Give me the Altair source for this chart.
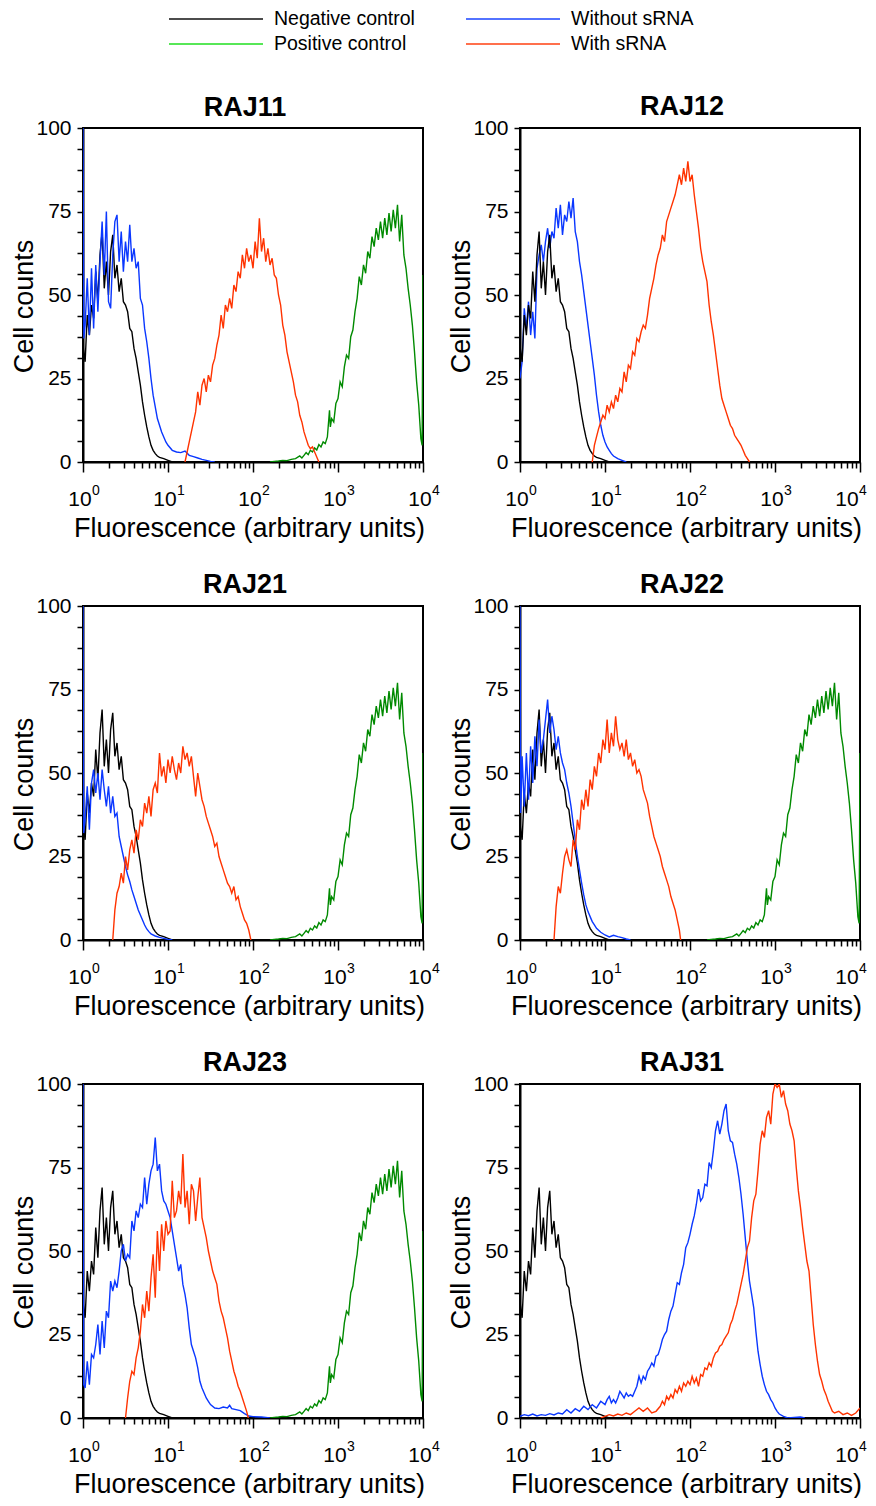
import altair as alt
import pandas as pd

FONT = "Liberation Sans"
BLACK = "#000000"
GREEN = "#008a00"
LEG_GREEN = "#10dd10"
BLUE = "#0a37ff"
RED = "#ff3300"

# ---- data: (log10 fluorescence, cell counts) ----
NEG_CONTROL = [(0.000, 100), (0.004, 34), (0.025, 30), (0.050, 44), (0.075, 38), (0.100, 47), (0.125, 43),
               (0.150, 57), (0.175, 48), (0.200, 62), (0.225, 69), (0.250, 52), (0.275, 60), (0.300, 50),
               (0.325, 63), (0.350, 68), (0.375, 55), (0.400, 59), (0.425, 51), (0.450, 55), (0.475, 48),
               (0.500, 47), (0.525, 45), (0.550, 40), (0.575, 39), (0.600, 34), (0.625, 31), (0.650, 27),
               (0.675, 23), (0.700, 18), (0.725, 14), (0.750, 10.5), (0.775, 7.5), (0.800, 5), (0.825, 3.5),
               (0.850, 2.5), (0.875, 1.8), (0.900, 1.4), (0.950, 1), (1.000, 0.5), (1.050, 0)]

POS_CONTROL = [(2.200, 0), (2.250, 0.2), (2.300, 0.3), (2.350, 0.5), (2.400, 0.4), (2.450, 0.8), (2.500, 1.0),
               (2.550, 1.8), (2.575, 1.2), (2.600, 2.0), (2.625, 2.8), (2.650, 2.2), (2.675, 3.5), (2.700, 3.0),
               (2.725, 4.2), (2.750, 3.6), (2.775, 5.2), (2.800, 4.5), (2.825, 6.0), (2.850, 5.5), (2.875, 7.5),
               (2.900, 15.5), (2.910, 10.5), (2.925, 13.0), (2.950, 12.0), (2.975, 17.5), (3.000, 19.0),
               (3.025, 24.0), (3.050, 22.5), (3.075, 28.5), (3.100, 32.0), (3.125, 31.0), (3.150, 37.5),
               (3.175, 39.5), (3.200, 45.0), (3.225, 49.0), (3.250, 55.5), (3.275, 53.0), (3.300, 59.0),
               (3.325, 56.5), (3.350, 63.0), (3.375, 61.0), (3.400, 67.5), (3.425, 64.5), (3.450, 70.0),
               (3.475, 66.5), (3.500, 72.0), (3.525, 67.0), (3.550, 73.0), (3.575, 68.0), (3.600, 74.5),
               (3.625, 69.0), (3.650, 75.5), (3.675, 70.0), (3.700, 77.0), (3.725, 66.0), (3.750, 74.0),
               (3.775, 62.0), (3.800, 58.0), (3.825, 52.0), (3.850, 47.0), (3.875, 41.0), (3.900, 33.0),
               (3.925, 24.0), (3.950, 17.0), (3.975, 7.0), (3.990, 5.0), (4.000, 56.0)]

RAJ11_WITHOUT = [(0.000, 100), (0.010, 37), (0.025, 41), (0.050, 55), (0.075, 38), (0.100, 58), (0.125, 40),
                 (0.150, 59), (0.175, 45), (0.200, 60), (0.225, 72), (0.250, 56), (0.275, 75), (0.300, 48),
                 (0.325, 46), (0.350, 62), (0.375, 72), (0.400, 74), (0.425, 60), (0.450, 69), (0.475, 57),
                 (0.500, 66), (0.525, 60), (0.550, 71), (0.575, 60), (0.600, 64), (0.625, 58), (0.650, 60),
                 (0.675, 49), (0.700, 47), (0.725, 40), (0.750, 36), (0.775, 31), (0.800, 25), (0.825, 20),
                 (0.850, 16.5), (0.875, 13), (0.900, 11), (0.925, 9), (0.950, 7.5), (0.975, 6), (1.000, 5),
                 (1.050, 3.5), (1.100, 3), (1.150, 2.8), (1.200, 3.3), (1.250, 2), (1.300, 1.6), (1.350, 1.2),
                 (1.400, 0.8), (1.450, 0.5), (1.500, 0.2), (1.550, 0)]

RAJ11_WITH = [(1.200, 0), (1.225, 3), (1.250, 6), (1.275, 9), (1.300, 12), (1.325, 15), (1.350, 21), (1.375, 17),
              (1.400, 23), (1.425, 25), (1.450, 21), (1.475, 26), (1.500, 24), (1.525, 29), (1.550, 31),
              (1.575, 35), (1.600, 38), (1.625, 44), (1.650, 40), (1.675, 47), (1.700, 45), (1.725, 49),
              (1.750, 46), (1.775, 53), (1.800, 51), (1.825, 57), (1.850, 55), (1.875, 62), (1.900, 58),
              (1.925, 64), (1.950, 60), (1.975, 62), (2.000, 58), (2.025, 66), (2.050, 61), (2.075, 73),
              (2.100, 63), (2.125, 67), (2.150, 60), (2.175, 64), (2.200, 59), (2.225, 61), (2.250, 56),
              (2.275, 55), (2.300, 50), (2.325, 47), (2.350, 41), (2.375, 38), (2.400, 33), (2.425, 30),
              (2.450, 27), (2.475, 24), (2.500, 20), (2.525, 18), (2.550, 14), (2.575, 12), (2.600, 9),
              (2.625, 7), (2.650, 5), (2.675, 4), (2.700, 4.5), (2.725, 3), (2.750, 1.5), (2.775, 0)]

RAJ12_WITHOUT = [(0.000, 25), (0.025, 30), (0.050, 46), (0.075, 40), (0.100, 48), (0.125, 38), (0.150, 45),
                 (0.175, 37), (0.200, 58), (0.225, 62), (0.250, 65), (0.275, 60), (0.300, 66), (0.325, 70),
                 (0.350, 64), (0.375, 69), (0.400, 67), (0.425, 76), (0.450, 70), (0.475, 77), (0.500, 68),
                 (0.525, 74), (0.550, 72), (0.575, 78), (0.600, 73), (0.625, 79), (0.650, 69), (0.675, 66),
                 (0.700, 60), (0.725, 56), (0.750, 51), (0.775, 46), (0.800, 41), (0.825, 36), (0.850, 31),
                 (0.875, 26), (0.900, 20), (0.925, 15), (0.950, 11), (0.975, 8), (1.000, 6), (1.025, 4.5),
                 (1.050, 3.5), (1.075, 2.5), (1.100, 1.8), (1.150, 1.0), (1.200, 0.5), (1.250, 0)]

RAJ12_WITH = [(0.850, 0), (0.875, 5), (0.900, 7.5), (0.925, 10), (0.950, 12), (0.975, 14), (1.000, 13),
              (1.025, 17), (1.050, 15), (1.075, 18), (1.100, 16), (1.125, 20), (1.150, 18), (1.175, 22),
              (1.200, 21), (1.225, 27), (1.250, 24), (1.275, 29), (1.300, 28), (1.325, 33), (1.350, 32),
              (1.375, 37), (1.400, 36), (1.425, 39), (1.450, 41), (1.475, 40), (1.500, 44), (1.525, 49),
              (1.550, 52), (1.575, 55), (1.600, 59), (1.625, 62), (1.650, 64), (1.675, 68), (1.700, 66),
              (1.725, 72), (1.750, 74), (1.775, 76), (1.800, 78), (1.825, 80), (1.850, 83), (1.875, 86),
              (1.900, 83), (1.925, 88), (1.950, 84), (1.975, 90), (2.000, 84), (2.025, 86), (2.050, 80),
              (2.075, 75), (2.100, 70), (2.125, 64), (2.150, 60), (2.175, 57), (2.200, 54), (2.225, 47),
              (2.250, 42), (2.275, 38), (2.300, 33), (2.325, 28), (2.350, 23), (2.375, 19), (2.400, 17),
              (2.425, 15), (2.450, 13), (2.475, 11), (2.500, 10), (2.525, 8), (2.550, 7), (2.575, 6),
              (2.600, 5), (2.625, 3.5), (2.650, 2), (2.675, 1), (2.700, 0)]

RAJ21_WITHOUT = [(0.000, 100), (0.008, 32), (0.025, 36), (0.050, 46), (0.075, 33), (0.100, 47), (0.125, 51),
                 (0.150, 44), (0.175, 50), (0.200, 42), (0.225, 51), (0.250, 45), (0.275, 40), (0.300, 46),
                 (0.325, 38), (0.350, 43), (0.375, 37), (0.400, 38), (0.425, 31), (0.450, 28), (0.475, 25),
                 (0.500, 22), (0.525, 19.5), (0.550, 17.5), (0.575, 15), (0.600, 13), (0.625, 11), (0.650, 9),
                 (0.675, 7.5), (0.700, 6), (0.725, 4.5), (0.750, 3.3), (0.775, 2.5), (0.800, 1.8), (0.850, 1.2),
                 (0.900, 0.8), (0.950, 0.5), (1.000, 0.2), (1.050, 0)]

RAJ21_WITH = [(0.350, 0), (0.375, 9), (0.400, 14), (0.425, 16), (0.450, 20), (0.475, 17), (0.500, 25),
              (0.525, 21), (0.550, 27), (0.575, 30), (0.600, 26), (0.625, 33), (0.650, 30), (0.675, 36),
              (0.700, 34), (0.725, 41), (0.750, 38), (0.775, 43), (0.800, 37), (0.825, 45), (0.850, 47),
              (0.875, 44), (0.900, 56), (0.925, 49), (0.950, 52), (0.975, 47), (1.000, 54), (1.025, 50),
              (1.050, 55), (1.075, 51), (1.100, 48), (1.125, 53), (1.150, 50), (1.175, 58), (1.200, 54),
              (1.225, 56), (1.250, 52), (1.275, 55), (1.300, 49), (1.325, 43), (1.350, 50), (1.375, 46),
              (1.400, 42), (1.425, 40), (1.450, 37), (1.475, 35), (1.500, 33), (1.525, 31), (1.550, 28),
              (1.575, 29), (1.600, 25), (1.625, 23), (1.650, 21), (1.675, 19), (1.700, 17), (1.725, 16),
              (1.750, 14), (1.775, 16), (1.800, 12), (1.825, 13), (1.850, 10), (1.875, 8), (1.900, 6),
              (1.925, 5), (1.950, 3), (1.975, 0)]

RAJ22_WITHOUT = [(0.000, 100), (0.008, 38), (0.025, 55), (0.050, 40), (0.075, 56), (0.100, 42), (0.125, 58),
                 (0.150, 47), (0.175, 61), (0.200, 52), (0.225, 66), (0.250, 56), (0.275, 60), (0.300, 66),
                 (0.325, 72), (0.350, 62), (0.375, 67), (0.400, 63), (0.425, 57), (0.450, 61), (0.475, 56),
                 (0.500, 53), (0.525, 51), (0.550, 47), (0.575, 44), (0.600, 40), (0.625, 35), (0.650, 30),
                 (0.675, 25), (0.700, 21), (0.725, 17), (0.750, 13.5), (0.775, 10.5), (0.800, 8.5), (0.825, 7),
                 (0.850, 5.5), (0.875, 4.5), (0.900, 3.5), (0.950, 2.3), (1.000, 1.5), (1.050, 0.9), (1.100, 1.4),
                 (1.150, 1.0), (1.200, 0.7), (1.250, 0.3), (1.300, 0)]

RAJ22_WITH = [(0.400, 0), (0.425, 10), (0.450, 16), (0.475, 14), (0.500, 20), (0.525, 25), (0.550, 27),
              (0.575, 24), (0.600, 22), (0.625, 30), (0.650, 27), (0.675, 36), (0.700, 33), (0.725, 42),
              (0.750, 39), (0.775, 45), (0.800, 40), (0.825, 48), (0.850, 45), (0.875, 52), (0.900, 49),
              (0.925, 56), (0.950, 53), (0.975, 60), (1.000, 57), (1.025, 66), (1.050, 56), (1.075, 62),
              (1.100, 58), (1.125, 67), (1.150, 60), (1.175, 57), (1.200, 59), (1.225, 55), (1.250, 60),
              (1.275, 54), (1.300, 56), (1.325, 52), (1.350, 54), (1.375, 50), (1.400, 51), (1.425, 49),
              (1.450, 45), (1.475, 43), (1.500, 41), (1.525, 37), (1.550, 34), (1.575, 31), (1.600, 29),
              (1.625, 27), (1.650, 25), (1.675, 22), (1.700, 20), (1.725, 18), (1.750, 16), (1.775, 13),
              (1.800, 11), (1.825, 9), (1.850, 6), (1.875, 3), (1.890, 0)]

RAJ23_WITHOUT = [(0.000, 100), (0.008, 10), (0.025, 9), (0.050, 17), (0.075, 10), (0.100, 19), (0.125, 18),
                 (0.150, 22), (0.175, 28), (0.200, 19), (0.225, 29), (0.250, 21), (0.275, 32), (0.300, 30),
                 (0.325, 41), (0.350, 38), (0.375, 41), (0.400, 39), (0.425, 44), (0.450, 50), (0.475, 52),
                 (0.500, 47), (0.525, 49), (0.550, 48), (0.575, 59), (0.600, 56), (0.625, 62), (0.650, 60),
                 (0.675, 64), (0.700, 63), (0.725, 72), (0.750, 64), (0.775, 70), (0.800, 74), (0.825, 76),
                 (0.850, 84), (0.875, 74), (0.900, 76), (0.925, 68), (0.950, 65), (0.975, 64), (1.000, 62),
                 (1.025, 60), (1.050, 56), (1.075, 52), (1.100, 48), (1.125, 44), (1.150, 46), (1.175, 40),
                 (1.200, 37), (1.225, 33), (1.250, 27), (1.275, 22), (1.300, 20), (1.325, 18), (1.350, 15),
                 (1.375, 11), (1.400, 9), (1.425, 7.5), (1.450, 6), (1.475, 5), (1.500, 4), (1.550, 3),
                 (1.600, 2.8), (1.650, 3.3), (1.700, 3.0), (1.725, 3.8), (1.750, 2.8), (1.800, 2.5),
                 (1.850, 2.2), (1.900, 1.3), (1.950, 0.6), (2.000, 0.4), (2.100, 0.3), (2.200, 0)]

RAJ23_WITH = [(0.500, 0), (0.525, 6), (0.550, 11), (0.575, 14), (0.600, 13), (0.625, 18), (0.650, 21),
              (0.675, 26), (0.700, 34), (0.725, 30), (0.750, 38), (0.775, 32), (0.800, 42), (0.825, 49),
              (0.850, 36), (0.875, 56), (0.900, 44), (0.925, 58), (0.950, 50), (0.975, 59), (1.000, 55),
              (1.025, 56), (1.050, 71), (1.075, 60), (1.100, 62), (1.125, 68), (1.150, 64), (1.175, 79),
              (1.200, 63), (1.225, 68), (1.250, 58), (1.275, 70), (1.300, 68), (1.325, 59), (1.350, 66),
              (1.375, 72), (1.400, 60), (1.425, 57), (1.450, 54), (1.475, 50), (1.500, 47), (1.525, 44),
              (1.550, 42), (1.575, 40), (1.600, 35), (1.625, 32), (1.650, 30), (1.675, 27), (1.700, 24),
              (1.725, 20), (1.750, 17), (1.775, 14), (1.800, 12), (1.825, 9.5), (1.850, 8), (1.875, 6),
              (1.900, 4), (1.925, 2), (1.945, 0)]

RAJ31_WITHOUT = [(0.000, 0.5), (0.050, 1.0), (0.100, 0.7), (0.150, 1.2), (0.200, 0.6), (0.250, 1.0), (0.300, 0.8),
                 (0.350, 1.3), (0.400, 0.9), (0.450, 1.5), (0.500, 1.2), (0.550, 2.5), (0.600, 1.5), (0.650, 2.8),
                 (0.700, 2.0), (0.750, 3.5), (0.800, 2.5), (0.850, 4.0), (0.900, 3.0), (0.950, 5.0), (1.000, 4.0),
                 (1.025, 5.5), (1.050, 6.5), (1.075, 4.5), (1.100, 5.5), (1.125, 4.5), (1.150, 6.0), (1.175, 8.0),
                 (1.200, 7.0), (1.225, 6.0), (1.250, 7.5), (1.275, 6.5), (1.300, 7.0), (1.325, 6.5), (1.350, 8.0),
                 (1.375, 9.5), (1.400, 12.5), (1.425, 10.5), (1.450, 12.5), (1.475, 11.5), (1.500, 14.0),
                 (1.525, 15.0), (1.550, 16.5), (1.575, 15.5), (1.600, 18.5), (1.625, 19.0), (1.650, 21.0),
                 (1.675, 23.5), (1.700, 25.0), (1.725, 26.0), (1.750, 29.5), (1.775, 32.0), (1.800, 33.5),
                 (1.825, 37.0), (1.850, 40.5), (1.875, 40.0), (1.900, 43.5), (1.925, 46.0), (1.950, 51.0),
                 (1.975, 52.5), (2.000, 55.0), (2.025, 58.0), (2.050, 60.5), (2.075, 64.0), (2.100, 68.5),
                 (2.125, 65.0), (2.150, 66.0), (2.175, 70.0), (2.200, 69.5), (2.225, 76.5), (2.250, 75.0),
                 (2.275, 80.0), (2.300, 86.0), (2.325, 89.0), (2.350, 85.0), (2.375, 88.0), (2.400, 92.0),
                 (2.425, 94.0), (2.450, 86.0), (2.475, 83.0), (2.500, 82.5), (2.525, 79.0), (2.550, 76.0),
                 (2.575, 72.0), (2.600, 67.0), (2.625, 61.0), (2.650, 54.0), (2.675, 47.0), (2.700, 41.0),
                 (2.725, 37.0), (2.750, 33.0), (2.775, 26.0), (2.800, 20.0), (2.825, 16.0), (2.850, 12.5),
                 (2.875, 10.0), (2.900, 8.0), (2.925, 7.0), (2.950, 5.5), (2.975, 4.5), (3.000, 3.0),
                 (3.025, 2.0), (3.050, 1.2), (3.100, 0.5), (3.150, 0), (3.300, 0.3), (3.350, 0)]

RAJ31_WITH = [(0.950, 0), (1.000, 0.5), (1.050, 1.0), (1.100, 0.6), (1.150, 1.2), (1.200, 0.8), (1.250, 1.5),
              (1.300, 1.0), (1.350, 2.0), (1.400, 3.0), (1.450, 2.0), (1.500, 3.0), (1.550, 1.5), (1.600, 2.0),
              (1.650, 3.5), (1.675, 5.0), (1.700, 4.0), (1.725, 6.5), (1.750, 5.5), (1.775, 7.0), (1.800, 6.0),
              (1.825, 8.5), (1.850, 7.5), (1.875, 9.5), (1.900, 8.0), (1.925, 10.5), (1.950, 9.5), (1.975, 11.0),
              (2.000, 10.0), (2.025, 12.5), (2.050, 10.5), (2.075, 12.0), (2.100, 9.5), (2.125, 13.0),
              (2.150, 12.5), (2.175, 15.0), (2.200, 14.5), (2.225, 16.5), (2.250, 15.5), (2.275, 18.0),
              (2.300, 19.5), (2.325, 20.0), (2.350, 21.5), (2.375, 22.0), (2.400, 23.5), (2.425, 24.5),
              (2.450, 25.5), (2.475, 28.0), (2.500, 29.5), (2.525, 32.0), (2.550, 34.0), (2.575, 37.0),
              (2.600, 40.0), (2.625, 43.0), (2.650, 47.0), (2.675, 51.0), (2.700, 53.0), (2.725, 60.0),
              (2.750, 65.0), (2.775, 67.0), (2.800, 74.0), (2.825, 82.0), (2.850, 86.0), (2.875, 84.0),
              (2.900, 90.0), (2.925, 92.0), (2.950, 88.0), (2.975, 97.0), (3.000, 100.0), (3.025, 99.0),
              (3.050, 100.0), (3.075, 96.0), (3.100, 98.0), (3.125, 94.0), (3.150, 92.0), (3.175, 88.0),
              (3.200, 86.0), (3.225, 83.0), (3.250, 75.0), (3.275, 68.0), (3.300, 63.0), (3.325, 57.0),
              (3.350, 52.0), (3.375, 47.0), (3.400, 44.0), (3.425, 36.0), (3.450, 28.0), (3.475, 22.0),
              (3.500, 17.0), (3.525, 13.0), (3.550, 11.0), (3.575, 8.5), (3.600, 7.0), (3.625, 5.0),
              (3.650, 3.5), (3.675, 2.0), (3.700, 1.5), (3.750, 2.0), (3.800, 1.0), (3.850, 1.5),
              (3.900, 0.8), (3.950, 1.5), (4.000, 3.0)]

LEGEND_LABELS = ["Negative control", "Positive control", "Without sRNA", "With sRNA"]
LEGEND_COLORS = [BLACK, LEG_GREEN, BLUE, RED]
LEGEND_COL = [0, 0, 1, 1]
LEGEND_ROW = [0, 1, 0, 1]

# x tick labels: base "10" with superscript exponent
DECADES = [1, 10, 100, 1000, 10000]
EXPONENTS = ["0", "1", "2", "3", "4"]

SERIES_COLOR = {"neg": BLACK, "pos": GREEN, "without": BLUE, "with": RED}

PANELS = [
    ("RAJ11", [("neg", NEG_CONTROL), ("pos", POS_CONTROL), ("without", RAJ11_WITHOUT), ("with", RAJ11_WITH)]),
    ("RAJ12", [("without", RAJ12_WITHOUT), ("neg", NEG_CONTROL), ("with", RAJ12_WITH)]),
    ("RAJ21", [("neg", NEG_CONTROL), ("pos", POS_CONTROL), ("without", RAJ21_WITHOUT), ("with", RAJ21_WITH)]),
    ("RAJ22", [("neg", NEG_CONTROL), ("pos", POS_CONTROL), ("without", RAJ22_WITHOUT), ("with", RAJ22_WITH)]),
    ("RAJ23", [("neg", NEG_CONTROL), ("pos", POS_CONTROL), ("without", RAJ23_WITHOUT), ("with", RAJ23_WITH)]),
    ("RAJ31", [("neg", NEG_CONTROL), ("without", RAJ31_WITHOUT), ("with", RAJ31_WITH)]),
]

X_TICKS = [m * 10 ** d for d in range(4) for m in range(1, 10)] + [10000]
Y_TICKS = [i * 6.25 for i in range(17)]
DECADE_TEST = "datum.value == 1 || datum.value == 10 || datum.value == 100 || datum.value == 1000 || datum.value == 10000"
LAST_TEST = "datum.value == 10000"

W, H = 340, 334

x_scale = alt.Scale(type="log", domain=[1, 10000], nice=False)
y_scale = alt.Scale(domain=[0, 100], nice=False, zero=False)


def x_axis(right_col):
    kw = dict(values=X_TICKS, labelExpr="(" + DECADE_TEST + ") ? '10' : ''", labelOverlap=False,
              labelFlush=False, labelFontSize=21, labelPadding=16, labelOffset=-3.5,
              tickSize={"condition": {"test": DECADE_TEST, "value": 10}, "value": 6},
              title="Fluorescence (arbitrary units)", titleFontSize=27, titlePadding=6, titleX=W / 2 - 4)
    if right_col:
        kw["labelOffset"] = {"condition": {"test": LAST_TEST, "value": -13.5}, "value": -3.5}
    return alt.Axis(**kw)


y_axis = alt.Axis(values=Y_TICKS, labelExpr="datum.value % 25 == 0 ? datum.label : ''", labelOverlap=False,
                  labelFontSize=21, labelPadding=6, tickSize=6, title="Cell counts", titleFontSize=27,
                  titlePadding=-3, titleY=H / 2 + 11)


def exponent_layers(right_col):
    df = pd.DataFrame({"fluo": DECADES, "exp": EXPONENTS})
    enc = dict(x=alt.X("fluo:Q", scale=x_scale), y=alt.value(H + 33), text="exp:N")
    base = alt.Chart(df).mark_text(align="left", baseline="alphabetic", fontSize=14, font=FONT, color="black",
                                   dx=9)
    if not right_col:
        return [base.encode(**enc)]
    main = base.transform_filter("datum.fluo < 10000").encode(**enc)
    last = alt.Chart(df).transform_filter("datum.fluo == 10000").mark_text(
        align="left", baseline="alphabetic", fontSize=14, font=FONT, color="black", dx=-1).encode(**enc)
    return [main, last]


def legend_layer():
    legend_df = pd.DataFrame({"label": LEGEND_LABELS, "col": LEGEND_COL, "row": LEGEND_ROW})
    lx = alt.X("col:Q", scale=alt.Scale(domain=[0, 1], range=[133, 430]), axis=None)
    ly = alt.Y("row:Q", scale=alt.Scale(domain=[0, 1], range=[-109, -84]), axis=None)
    lcolor = alt.Color("label:N", scale=alt.Scale(domain=LEGEND_LABELS, range=LEGEND_COLORS), legend=None)
    lines = alt.Chart(legend_df).mark_tick(orient="horizontal", size=94, thickness=2).encode(
        x=lx, y=ly, color=lcolor)
    texts = alt.Chart(legend_df).mark_text(align="left", baseline="middle", dx=58, fontSize=19.5, font=FONT,
                                           color="black").encode(x=lx, y=ly, text="label:N")
    return alt.layer(lines, texts)


def panel(idx, title, series):
    right_col = idx % 2 == 1
    layers = []
    for name, pts in series:
        df = pd.DataFrame(pts, columns=["lg", "count"])
        df["fluo"] = 10 ** df["lg"]
        layers.append(
            alt.Chart(df).mark_line(color=SERIES_COLOR[name], strokeWidth=1.4, clip=True).encode(
                x=alt.X("fluo:Q", scale=x_scale, axis=x_axis(right_col)),
                y=alt.Y("count:Q", scale=y_scale, axis=y_axis),
                order="lg:Q",
            )
        )
    layers += exponent_layers(right_col)
    body = alt.layer(*layers)
    title_dy = 12
    if idx == 0:
        body = alt.layer(body, legend_layer()).resolve_scale(x="independent", y="independent")
        title_dy = 120.5
    return body.properties(
        width=W, height=H,
        title=alt.TitleParams(title, fontSize=27, fontWeight="bold", font=FONT, offset=8, dy=title_dy, dx=-8,
                              color="black"),
    )


panels = [panel(i, t, s) for i, (t, s) in enumerate(PANELS)]

chart = alt.concat(*panels, columns=2, spacing={"row": 144, "column": 97}, bounds="flush").properties(
    padding={"left": 1, "top": 0, "right": 0, "bottom": 0}
).configure(font=FONT).configure_view(stroke="black", strokeWidth=2).configure_axis(
    grid=False, domainColor="black", domainWidth=2, tickColor="black", tickWidth=1.5,
    labelColor="black", titleColor="black", labelFont=FONT, titleFont=FONT, titleFontWeight="normal"
)

chart.save("out.html", embed_options={"renderer": "svg", "actions": False})
